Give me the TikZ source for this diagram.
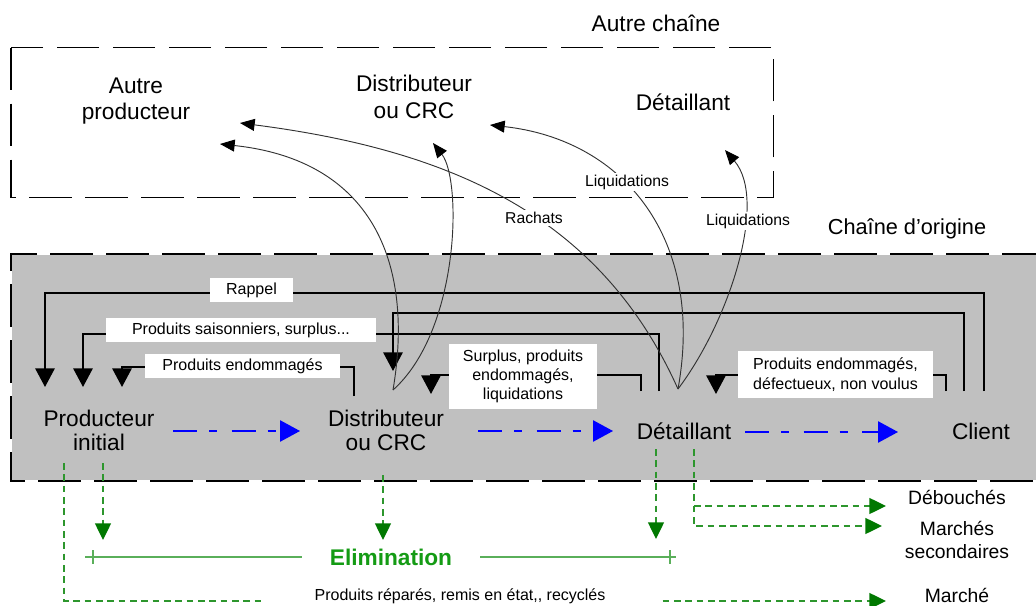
\documentclass[tikz,border=0pt]{standalone}
\usepackage{fontspec}
\setmainfont{Liberation Sans}
\usetikzlibrary{arrows.meta}
\definecolor{boxgray}{RGB}{192,192,192}
\definecolor{gline}{RGB}{45,150,45}
\definecolor{ghead}{RGB}{0,120,0}
\definecolor{elimgreen}{RGB}{20,155,20}
\definecolor{elimline}{RGB}{90,175,90}
\definecolor{curvec}{RGB}{50,50,50}
\tikzset{
  big/.style={font=\fontsize{17}{18}\selectfont, align=center, inner sep=0pt},
  mid/.style={font=\fontsize{14.5}{17}\selectfont, align=center, inner sep=0pt},
  lab/.style={font=\fontsize{12}{14.5}\selectfont, fill=white, align=center, inner sep=0pt},
  clab/.style={font=\fontsize{11.8}{14}\selectfont, fill=white, inner sep=1.5pt},
  fb/.style={line width=1.5pt, -{Triangle[length=14pt,width=14.5pt]}},
  crv/.style={line width=0.7pt, draw=curvec, -{Triangle[length=11pt,width=9pt,color=black]}},
  blu/.style={draw=blue, line width=1.1pt, dash pattern=on 18pt off 9pt on 6pt off 11pt, -{Triangle[length=15pt,width=16pt,color=blue]}},
  garr/.style={draw=gline, line width=1pt, dash pattern=on 5pt off 3.5pt, -{Triangle[length=12.5pt,width=12pt,color=ghead]}},
  elim/.style={draw=elimline, line width=1.1pt},
  boxborder/.style={draw=black, line width=0.8pt, dash pattern=on 32pt off 10pt},
}
\begin{document}
\begin{tikzpicture}[x=0.75pt,y=-0.75pt]
\useasboundingbox (0,0) rectangle (1036,606);

% frames
\fill[boxgray] (11,254) rectangle (1045,481);
\draw[white, line width=0.8pt] (11,254) rectangle (1045,481);
\draw[boxborder] (1045,254) -- (11,254) -- (11,481) -- (1045,481);
\draw[boxborder] (11,47.7) rectangle (773.5,197.3);

\node[big] (autrechaine) at (656,23) {Autre cha\^ine};
\node[font=\fontsize{16.3}{18}\selectfont, inner sep=0pt] (origine) at (907,229) {Cha\^ine d’origine};

% top nodes
\node[big, font=\fontsize{17}{19.5}\selectfont] (aprod) at (136,101) {Autre\\producteur};
\node[big, font=\fontsize{17}{20}\selectfont] (adist) at (414,97) {Distributeur\\ou CRC};
\node[big] (adet) at (683,102) {D\'etaillant};

% main nodes
\node[big] (prod) at (99,430) {Producteur\\initial};
\node[big] (dist) at (386,430) {Distributeur\\ou CRC};
\node[big] (det) at (684,431) {D\'etaillant};
\node[big] (client) at (981,431) {Client};

% feedback coordinates
\coordinate (rapS) at (984,391);
\coordinate (rapE) at (45,387);
\coordinate (cdS) at (964,391);
\coordinate (cdE) at (393,371);
\coordinate (saiS) at (659,391);
\coordinate (saiE) at (83,387);
\coordinate (peS) at (354,396);
\coordinate (peE) at (122,387);
\coordinate (spS) at (641,391);
\coordinate (spE) at (431,394);
\coordinate (edS) at (946,391);
\coordinate (edE) at (716,394);

\draw[fb] (rapS) -- ++(0,-98) -| (rapE);
\draw[fb] (cdS) -- ++(0,-78) -| (cdE);
\draw[fb] (saiS) -- ++(0,-57) -| (saiE);
\draw[fb] (peS) -- ++(0,-29) -| (peE);
\draw[fb] (spS) -- ++(0,-16) -| (spE);
\draw[fb] (edS) -- ++(0,-16) -| (edE);

\node[lab, minimum width=62.25pt, minimum height=18pt] (rappel) at (251.5,290) {Rappel};
\node[lab, minimum width=202.5pt, minimum height=18pt] (sais) at (241,330) {Produits saisonniers, surplus...};
\node[lab, minimum width=146pt, minimum height=18pt] (pend) at (242.5,366) {Produits endommag\'es};
\node[lab, minimum width=111pt, minimum height=49pt] (surp) at (523,376.5) {Surplus, produits\\endommag\'es,\\liquidations};
\node[lab, minimum width=146pt, minimum height=35pt] (pedef) at (835.5,374.5) {Produits endommag\'es,\\d\'efectueux, non voulus};

% curves to the other chain
\coordinate (dC) at (393,390);
\coordinate (tC) at (678,389);
\coordinate (aP1) at (220,144);
\coordinate (aD1) at (433,143);
\coordinate (aP2) at (240,123);
\coordinate (aD2) at (490,125);
\coordinate (aT) at (725,150);
\draw[crv] (dC) .. controls (415,260) and (370,160) .. (aP1);
\draw[crv] (dC) .. controls (460,330) and (462,180) .. (aD1);
\draw[crv] (tC) .. controls (600,215) and (450,150) .. (aP2);
\draw[crv] (tC) .. controls (705,240) and (625,140) .. (aD2);
\draw[crv] (tC) .. controls (730,320) and (768,200) .. (aT);
\node[clab] (liq1) at (627,182) {Liquidations};
\node[clab] (rach) at (534,218) {Rachats};
\node[clab] (liq2) at (748,221) {Liquidations};

% blue flow
\coordinate (b1s) at (173,431); \coordinate (b1e) at (300,431);
\coordinate (b2s) at (478,431); \coordinate (b2e) at (613,431);
\coordinate (b3s) at (745,432); \coordinate (b3e) at (898,432);
\draw[blu] (b1s) -- (b1e);
\draw[blu] (b2s) -- (b2e);
\draw[blu] (b3s) -- (b3e);

% green outputs
\coordinate (g1s) at (64,463); \coordinate (g1e) at (886,601);
\coordinate (g2s) at (103,463); \coordinate (g2e) at (103,540);
\coordinate (g3s) at (383,475); \coordinate (g3e) at (383,540);
\coordinate (g4s) at (656,449); \coordinate (g4e) at (656,539);
\coordinate (g5s) at (694,449); \coordinate (g5e) at (882,526);
\coordinate (g6s) at (694,506); \coordinate (g6e) at (886,506);
\draw[garr] (g1s) |- (g1e);
\draw[garr] (g2s) -- (g2e);
\draw[garr] (g3s) -- (g3e);
\draw[garr] (g4s) -- (g4e);
\draw[garr] (g5s) |- (g5e);
\draw[garr] (g6s) -- (g6e);

\node[font=\fontsize{12}{14}\selectfont, fill=white, inner sep=0pt, minimum width=297pt, minimum height=13pt] (repar) at (460,596) {Produits r\'epar\'es, remis en \'etat,\kern0pt, recycl\'es};

% elimination
\coordinate (elL) at (85,557); \coordinate (elR) at (676,557);
\coordinate (tkL) at (93,557); \coordinate (tkR) at (670,557);
\draw[elim] (elL) -- (elR);
\draw[elim] (tkL) ++(0,-7) -- ++(0,14);
\draw[elim] (tkR) ++(0,-7) -- ++(0,14);
\node[font=\bfseries\fontsize{17}{19}\selectfont, text=elimgreen, fill=white, inner sep=0pt, minimum width=134pt, minimum height=16pt] (elim) at (391,557) {Elimination};

% right labels
\node[mid] (debouches) at (957,497) {D\'ebouch\'es};
\node[mid] (marches) at (957,540) {March\'es\\secondaires};
\node[mid] (marche) at (957,595) {March\'e};
\end{tikzpicture}
\end{document}
